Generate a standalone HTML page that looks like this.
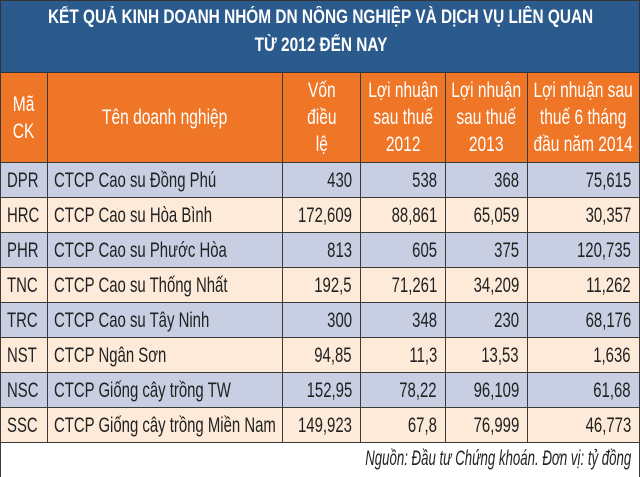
<!DOCTYPE html>
<html><head><meta charset="utf-8"><style>
*{margin:0;padding:0;box-sizing:border-box}
body{width:640px;height:477px;overflow:hidden;background:#fff;font-family:"Liberation Sans",sans-serif;position:relative}
.t{position:absolute;left:0;top:0;width:640px;height:73px;background:#2b5a8d;color:#fff;font-weight:bold;font-size:19px;text-align:center;border:1px solid #333}
.t div{position:absolute;left:-200px;width:1040px;white-space:nowrap;text-align:center}
.t span{display:inline-block;transform:scaleX(0.81);white-space:nowrap}
.c{position:absolute;display:flex;align-items:center;font-size:21px;color:#222;border-right:1px solid #3a3a3a;border-bottom:1px solid #3a3a3a;overflow:visible}
.c span{display:inline-block;white-space:nowrap;transform:scaleX(0.71);line-height:27px}
.h{background:#ee7626;color:#fff;justify-content:center;text-align:center}
.h span{transform-origin:center;transform:scaleX(0.74)}
.l{justify-content:flex-start;padding-left:6px}
.l span{transform-origin:left}
.r{justify-content:flex-end;padding-right:8px}
.r span{transform-origin:right}
.a{background:#c8cfe3}.b{background:#fdead8}
.f{position:absolute;top:443px;left:0;width:640px;height:34px;border-left:1px solid #3a3a3a;border-right:1px solid #3a3a3a;text-align:right;padding-right:8px;font-style:italic;font-size:21px;color:#222;line-height:32px;white-space:nowrap}
.f span{display:inline-block;transform:scaleX(0.63);transform-origin:right}
</style></head><body>
<div class="t">
<div style="top:6px"><span>KẾT QUẢ KINH DOANH NHÓM DN NÔNG NGHIỆP VÀ DỊCH VỤ LIÊN QUAN</span></div>
<div style="top:34px"><span>TỪ 2012 ĐẾN NAY</span></div>
</div>
<div id="tbl"></div>
<div class="f"><span>Nguồn: Đầu tư Chứng khoán. Đơn vị: tỷ đồng</span></div>
<script>
const codes=["DPR","HRC","PHR","TNC","TRC","NST","NSC","SSC"];
const names=["CTCP Cao su Đồng Phú","CTCP Cao su Hòa Bình","CTCP Cao su Phước Hòa","CTCP Cao su Thống Nhất","CTCP Cao su Tây Ninh","CTCP Ngân Sơn","CTCP Giống cây trồng TW","CTCP Giống cây trồng Miền Nam"];
const capital=["430","172,609","813","192,5","300","94,85","152,95","149,923"];
const profit2012=["538","88,861","605","71,261","348","11,3","78,22","67,8"];
const profit2013=["368","65,059","375","34,209","230","13,53","96,109","76,999"];
const profit2014h1=["75,615","30,357","120,735","11,262","68,176","1,636","61,68","46,773"];
const headers=["Mã<br>CK","Tên doanh nghiệp","Vốn<br>điều<br>lệ","Lợi nhuận<br>sau thuế<br>2012","Lợi nhuận<br>sau thuế<br>2013","Lợi nhuận sau<br>thuế 6 tháng<br>đầu năm 2014"];
const colX=[0,48,283,361,446,528,640];
const tbl=document.getElementById('tbl');
function cell(cls,x,y,w,h,html,name){
 const d=document.createElement('div');
 d.className='c '+cls;
 d.style.cssText=`left:${x}px;top:${y}px;width:${w}px;height:${h}px;`+(x===0?'border-left:1px solid #3a3a3a;':'');
 d.innerHTML='<span>'+html+'</span>';
 
 
 tbl.appendChild(d);
}
for(let i=0;i<6;i++)cell('h',colX[i],73,colX[i+1]-colX[i],90,headers[i],'header-cell');
for(let r=0;r<codes.length;r++){
 const y=163+r*35,bg=r%2?'b':'a';
 const vals=[codes[r],names[r],capital[r],profit2012[r],profit2013[r],profit2014h1[r]];
 for(let i=0;i<6;i++)cell(bg+' '+(i<2?'l':'r'),colX[i],y,colX[i+1]-colX[i],35,vals[i],'data-cell');
}
</script>
</body></html>
